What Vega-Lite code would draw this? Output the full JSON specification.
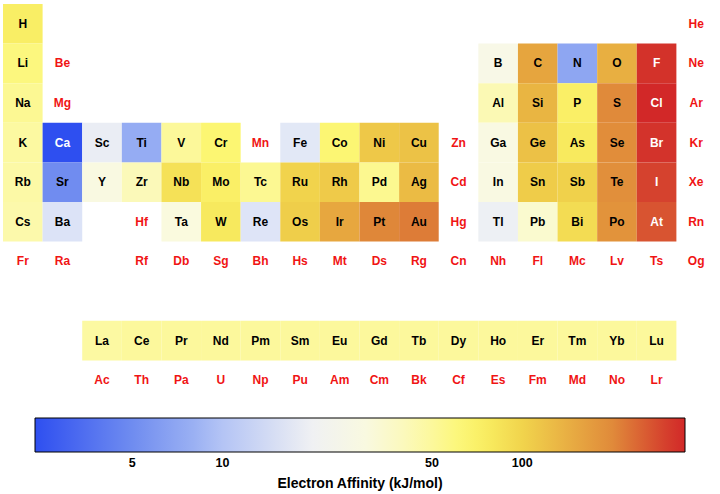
{
  "$schema": "https://vega.github.io/schema/vega-lite/v6.json",
  "autosize": "none",
  "width": 713,
  "height": 396,
  "padding": {"left": 3, "top": 4, "right": 4, "bottom": 94},
  "background": "white",
  "config": {"view": {"stroke": null}, "font": "Liberation Sans"},
  "data": {"values": [
    {"s":"H","c":1,"r":1,"ea":72.8},{"s":"He","c":18,"r":1,"ea":null},
    {"s":"Li","c":1,"r":2,"ea":59.6},{"s":"Be","c":2,"r":2,"ea":null},{"s":"B","c":13,"r":2,"ea":26.7},{"s":"C","c":14,"r":2,"ea":153.9},{"s":"N","c":15,"r":2,"ea":7},{"s":"O","c":16,"r":2,"ea":141},{"s":"F","c":17,"r":2,"ea":328},{"s":"Ne","c":18,"r":2,"ea":null},
    {"s":"Na","c":1,"r":3,"ea":52.8},{"s":"Mg","c":2,"r":3,"ea":null},{"s":"Al","c":13,"r":3,"ea":42.5},{"s":"Si","c":14,"r":3,"ea":133.6},{"s":"P","c":15,"r":3,"ea":72},{"s":"S","c":16,"r":3,"ea":200},{"s":"Cl","c":17,"r":3,"ea":349},{"s":"Ar","c":18,"r":3,"ea":null},
    {"s":"K","c":1,"r":4,"ea":48.4},{"s":"Ca","c":2,"r":4,"ea":2.37},{"s":"Sc","c":3,"r":4,"ea":18.1},{"s":"Ti","c":4,"r":4,"ea":7.6},{"s":"V","c":5,"r":4,"ea":50.6},{"s":"Cr","c":6,"r":4,"ea":64.3},{"s":"Mn","c":7,"r":4,"ea":null},{"s":"Fe","c":8,"r":4,"ea":15.7},{"s":"Co","c":9,"r":4,"ea":63.7},{"s":"Ni","c":10,"r":4,"ea":112},{"s":"Cu","c":11,"r":4,"ea":118.4},{"s":"Zn","c":12,"r":4,"ea":null},{"s":"Ga","c":13,"r":4,"ea":28.9},{"s":"Ge","c":14,"r":4,"ea":119},{"s":"As","c":15,"r":4,"ea":78},{"s":"Se","c":16,"r":4,"ea":195},{"s":"Br","c":17,"r":4,"ea":324.6},{"s":"Kr","c":18,"r":4,"ea":null},
    {"s":"Rb","c":1,"r":5,"ea":46.9},{"s":"Sr","c":2,"r":5,"ea":5.03},{"s":"Y","c":3,"r":5,"ea":29.6},{"s":"Zr","c":4,"r":5,"ea":41.1},{"s":"Nb","c":5,"r":5,"ea":86.1},{"s":"Mo","c":6,"r":5,"ea":71.9},{"s":"Tc","c":7,"r":5,"ea":53},{"s":"Ru","c":8,"r":5,"ea":101.3},{"s":"Rh","c":9,"r":5,"ea":109.7},{"s":"Pd","c":10,"r":5,"ea":53.7},{"s":"Ag","c":11,"r":5,"ea":126.3},{"s":"Cd","c":12,"r":5,"ea":null},{"s":"In","c":13,"r":5,"ea":28.9},{"s":"Sn","c":14,"r":5,"ea":107.3},{"s":"Sb","c":15,"r":5,"ea":103.2},{"s":"Te","c":16,"r":5,"ea":190.2},{"s":"I","c":17,"r":5,"ea":295.2},{"s":"Xe","c":18,"r":5,"ea":null},
    {"s":"Cs","c":1,"r":6,"ea":45.5},{"s":"Ba","c":2,"r":6,"ea":13.95},{"s":"Hf","c":4,"r":6,"ea":null},{"s":"Ta","c":5,"r":6,"ea":31},{"s":"W","c":6,"r":6,"ea":78.6},{"s":"Re","c":7,"r":6,"ea":14.5},{"s":"Os","c":8,"r":6,"ea":106.1},{"s":"Ir","c":9,"r":6,"ea":151},{"s":"Pt","c":10,"r":6,"ea":205.3},{"s":"Au","c":11,"r":6,"ea":222.8},{"s":"Hg","c":12,"r":6,"ea":null},{"s":"Tl","c":13,"r":6,"ea":19.2},{"s":"Pb","c":14,"r":6,"ea":35.1},{"s":"Bi","c":15,"r":6,"ea":91.2},{"s":"Po","c":16,"r":6,"ea":183.3},{"s":"At","c":17,"r":6,"ea":270.1},{"s":"Rn","c":18,"r":6,"ea":null},
    {"s":"Fr","c":1,"r":7,"ea":null},{"s":"Ra","c":2,"r":7,"ea":null},{"s":"Rf","c":4,"r":7,"ea":null},{"s":"Db","c":5,"r":7,"ea":null},{"s":"Sg","c":6,"r":7,"ea":null},{"s":"Bh","c":7,"r":7,"ea":null},{"s":"Hs","c":8,"r":7,"ea":null},{"s":"Mt","c":9,"r":7,"ea":null},{"s":"Ds","c":10,"r":7,"ea":null},{"s":"Rg","c":11,"r":7,"ea":null},{"s":"Cn","c":12,"r":7,"ea":null},{"s":"Nh","c":13,"r":7,"ea":null},{"s":"Fl","c":14,"r":7,"ea":null},{"s":"Mc","c":15,"r":7,"ea":null},{"s":"Lv","c":16,"r":7,"ea":null},{"s":"Ts","c":17,"r":7,"ea":null},{"s":"Og","c":18,"r":7,"ea":null},
    {"s":"La","c":3,"r":9,"ea":48},{"s":"Ce","c":4,"r":9,"ea":50},{"s":"Pr","c":5,"r":9,"ea":50},{"s":"Nd","c":6,"r":9,"ea":50},{"s":"Pm","c":7,"r":9,"ea":50},{"s":"Sm","c":8,"r":9,"ea":50},{"s":"Eu","c":9,"r":9,"ea":50},{"s":"Gd","c":10,"r":9,"ea":50},{"s":"Tb","c":11,"r":9,"ea":50},{"s":"Dy","c":12,"r":9,"ea":50},{"s":"Ho","c":13,"r":9,"ea":50},{"s":"Er","c":14,"r":9,"ea":50},{"s":"Tm","c":15,"r":9,"ea":50},{"s":"Yb","c":16,"r":9,"ea":50},{"s":"Lu","c":17,"r":9,"ea":50},
    {"s":"Ac","c":3,"r":10,"ea":null},{"s":"Th","c":4,"r":10,"ea":null},{"s":"Pa","c":5,"r":10,"ea":null},{"s":"U","c":6,"r":10,"ea":null},{"s":"Np","c":7,"r":10,"ea":null},{"s":"Pu","c":8,"r":10,"ea":null},{"s":"Am","c":9,"r":10,"ea":null},{"s":"Cm","c":10,"r":10,"ea":null},{"s":"Bk","c":11,"r":10,"ea":null},{"s":"Cf","c":12,"r":10,"ea":null},{"s":"Es","c":13,"r":10,"ea":null},{"s":"Fm","c":14,"r":10,"ea":null},{"s":"Md","c":15,"r":10,"ea":null},{"s":"No","c":16,"r":10,"ea":null},{"s":"Lr","c":17,"r":10,"ea":null}
  ]},
  "encoding": {
    "x": {"field": "c", "type": "ordinal", "axis": null,
          "scale": {"type": "band", "domain": [1,2,3,4,5,6,7,8,9,10,11,12,13,14,15,16,17,18], "paddingInner": 0, "paddingOuter": 0}},
    "y": {"field": "r", "type": "ordinal", "axis": null,
          "scale": {"type": "band", "domain": [1,2,3,4,5,6,7,8,9,10], "paddingInner": 0, "paddingOuter": 0}}
  },
  "layer": [
    {
      "transform": [{"filter": "datum.ea != null"}],
      "mark": {"type": "rect", "stroke": null},
      "encoding": {
        "color": {"field": "ea", "type": "quantitative",
          "scale": {"type": "log", "clamp": true, "interpolate": "rgb",
            "domain": [2.37, 5, 8, 14, 22, 32, 47, 65, 80, 100, 125, 155, 200, 230, 285, 349],
            "range": ["#2e4ff0", "#6f8cf0", "#9ab0f3", "#dce3f7", "#f5f5f2", "#fafadc", "#fcf9a6", "#fcf670", "#f7e85c", "#f1d44c", "#ebbc44", "#e6a43e", "#e08a3a", "#dc7836", "#d6482f", "#d22828"]},
          "legend": {"orient": "none", "legendX": 32, "legendY": 414, "direction": "horizontal",
            "gradientLength": 650, "gradientThickness": 34, "gradientStrokeColor": "black", "gradientStrokeWidth": 1,
            "values": [5, 10, 50, 100], "labelOverlap": false, "padding": 0,
            "labelFont": "Liberation Sans", "labelFontSize": 12.5, "labelFontWeight": "bold", "labelColor": "black", "labelOffset": 5,
            "title": "Electron Affinity (kJ/mol)", "titleOrient": "bottom", "titleAnchor": "middle",
            "titleFont": "Liberation Sans", "titleFontSize": 14, "titleFontWeight": "bold", "titleColor": "black", "titlePadding": 7}}
      }
    },
    {
      "mark": {"type": "text", "font": "Liberation Sans", "fontSize": 12, "fontWeight": "bold", "baseline": "middle", "align": "center"},
      "encoding": {
        "text": {"field": "s"},
        "color": {"condition": [{"test": "datum.ea == null", "value": "#f01414"}, {"test": "datum.ea > 250 || datum.ea < 3", "value": "white"}], "value": "black"}
      }
    }
  ]
}
